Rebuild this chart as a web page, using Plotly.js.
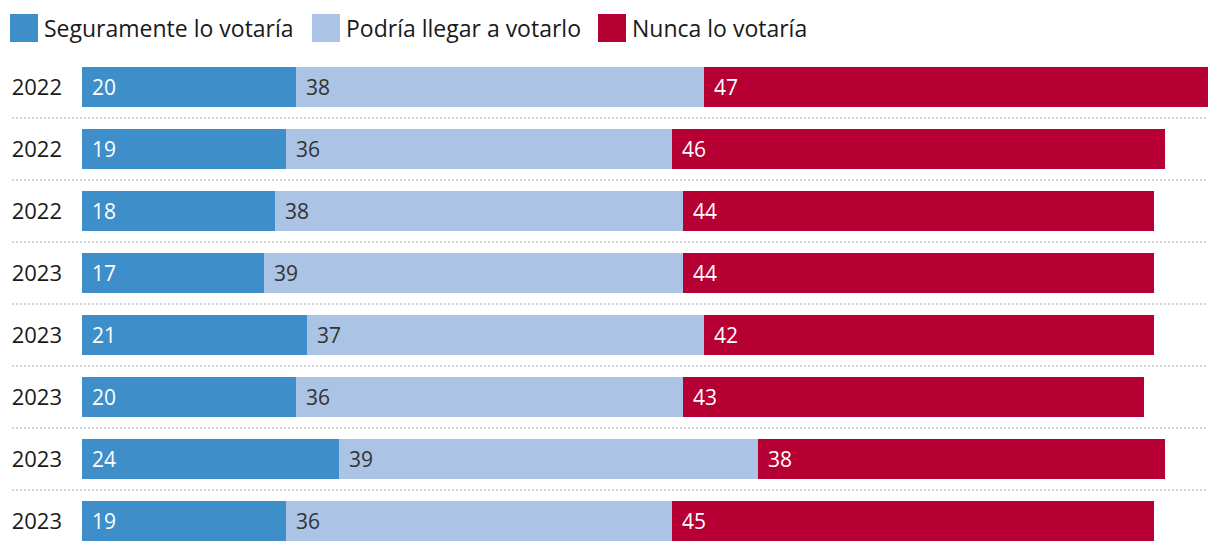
<!DOCTYPE html>
<html>
<head>
<meta charset="utf-8">
<script src="https://cdn.plot.ly/plotly-3.0.1.min.js"></script>
<style>html,body{margin:0;padding:0;background:#fff;}#chart{width:1220px;height:554px;}</style>
</head>
<body>
<div id="chart"></div>
<script>
const yearLabels = ["2022","2022","2022","2023","2023","2023","2023","2023"];
const seguramente = [20,19,18,17,21,20,24,19];
const podria = [38,36,38,39,37,36,39,36];
const nunca = [47,46,44,44,42,43,38,45];
const seriesNames = ["Seguramente lo votaría","Podría llegar a votarlo","Nunca lo votaría"];
const seriesColors = ["#3e8eca","#abc4e5","#b60033"];
const labelColors = ["#ffffff","#333333","#ffffff"];

const FONT = "'Open Sans', Roboto, sans-serif";
const idx = yearLabels.map((_, i) => i);
const series = [seguramente, podria, nunca];

const traces = series.map((vals, s) => ({
  type: 'bar', orientation: 'h', y: idx, x: vals, name: seriesNames[s],
  marker: {color: seriesColors[s], line: {width: 0}}, width: 0.645,
  hoverinfo: 'x', showlegend: false
}));

const annotations = [];
idx.forEach(i => {
  let base = 0;
  series.forEach((vals, s) => {
    annotations.push({
      x: base, y: i, xref: 'x', yref: 'y', text: String(vals[i]),
      showarrow: false, xanchor: 'left', yanchor: 'middle', xshift: 8,
      font: {family: FONT, size: 21, color: labelColors[s]}
    });
    base += vals[i];
  });
});

const shapes = [];
for (let i = 0; i < idx.length - 1; i++) {
  shapes.push({type: 'line', xref: 'paper', yref: 'y', x0: -70/1126, x1: 1, y0: i + 0.5, y1: i + 0.5,
    line: {color: '#d6d6d6', width: 2, dash: '2px,2px'}});
}
// legend
const legendX = [10, 312, 598];
seriesNames.forEach((n, s) => {
  const px = legendX[s];
  shapes.push({type: 'rect', xref: 'paper', yref: 'paper', x0: (px - 82)/1126, x1: (px + 28 - 82)/1126,
    y0: (554 - 2 - 42)/496, y1: (554 - 2 - 14)/496, fillcolor: seriesColors[s], line: {width: 0}});
  annotations.push({xref: 'paper', yref: 'paper', x: (px + 32 - 82)/1126, y: (554 - 2 - 28)/496,
    text: n, showarrow: false, xanchor: 'left', yanchor: 'middle',
    font: {family: FONT, size: 23, color: '#1a1a1a'}});
});

const layout = {
  width: 1220, height: 554,
  margin: {l: 82, r: 12, t: 56, b: 2},
  paper_bgcolor: '#fff', plot_bgcolor: '#fff',
  barmode: 'stack', showlegend: false,
  xaxis: {range: [0, 105], visible: false, fixedrange: true},
  yaxis: {range: [7.5, -0.5], tickvals: idx, ticktext: yearLabels, showgrid: false, zeroline: false,
    showline: false, ticks: '', ticklabelstandoff: 19,
    tickfont: {family: FONT, size: 22, color: '#1a1a1a'}},
  annotations: annotations, shapes: shapes,
  font: {family: FONT}
};
Plotly.newPlot('chart', traces, layout, {displayModeBar: false, staticPlot: true});
</script>
</body>
</html>
